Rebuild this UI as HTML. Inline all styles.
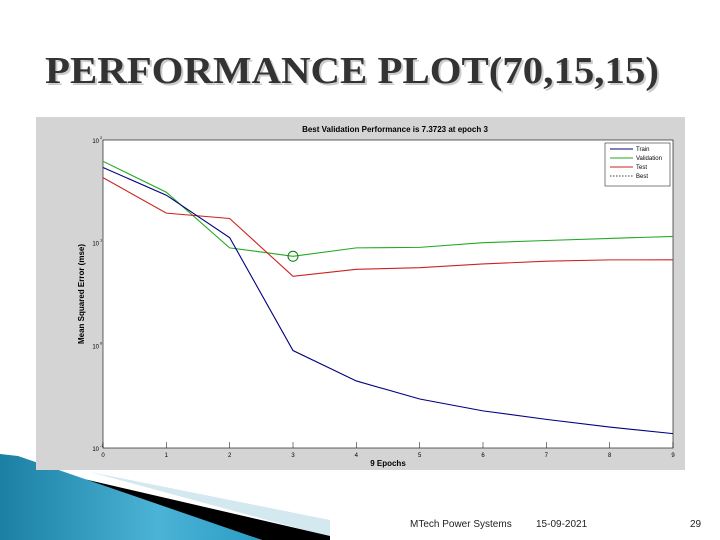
<!DOCTYPE html>
<html><head><meta charset="utf-8"><style>
body{margin:0;background:#fff;width:720px;height:540px;overflow:hidden}
svg{display:block;font-family:"Liberation Sans",sans-serif}
</style></head><body>
<svg width="720" height="540" viewBox="0 0 720 540">
<defs><linearGradient id="bg1" x1="0" y1="0" x2="1" y2="0"><stop offset="0" stop-color="#1a7fa3"/><stop offset="0.6" stop-color="#4bb3d6"/><stop offset="1" stop-color="#2c9cc4"/></linearGradient></defs>
<text x="47" y="85" font-family="Liberation Serif,serif" font-weight="bold" font-size="38" fill="#ccc" textLength="614" lengthAdjust="spacingAndGlyphs">PERFORMANCE PLOT(70,15,15)</text>
<text x="45" y="83" font-family="Liberation Serif,serif" font-weight="bold" font-size="38" fill="#333" textLength="614" lengthAdjust="spacingAndGlyphs">PERFORMANCE PLOT(70,15,15)</text>
<g>
<polygon points="90,472 330,520 330,537" fill="#d4e8f0"/>
<polygon points="45,470 330,536 330,540 262,540" fill="#000"/>
<polygon points="0,454 18,456 262,540 0,540" fill="url(#bg1)"/>
</g>
<rect x="36" y="117" width="649" height="353" fill="#d4d4d4"/>
<text x="395" y="132" font-size="8" text-anchor="middle" font-weight="bold" fill="#000">Best Validation Performance is 7.3723 at epoch 3</text>
<rect x="103" y="140" width="570" height="308" fill="#fff" stroke="#000" stroke-width="0.6"/>
<g id="ticks"></g>
<g id="series"></g>
<text x="388" y="466" font-size="8" font-weight="bold" text-anchor="middle">9 Epochs</text>
<text transform="translate(84,294) rotate(-90)" font-size="8" font-weight="bold" text-anchor="middle">Mean Squared Error  (mse)</text>
<g>
<rect x="605" y="143" width="65" height="43" fill="#fff" stroke="#000" stroke-width="0.5"/>
<line x1="610" y1="149" x2="633" y2="149" stroke="#00007f" stroke-width="1"/><text x="636" y="151" font-size="6">Train</text>
<line x1="610" y1="158" x2="633" y2="158" stroke="#22aa22" stroke-width="1"/><text x="636" y="160" font-size="6">Validation</text>
<line x1="610" y1="167" x2="633" y2="167" stroke="#cc2222" stroke-width="1"/><text x="636" y="169" font-size="6">Test</text>
<line x1="610" y1="176" x2="633" y2="176" stroke="#000" stroke-width="0.8" stroke-dasharray="1.5,1.5"/><text x="636" y="178" font-size="6">Best</text>
</g>
<text x="410" y="527" font-size="10" fill="#222">MTech   Power Systems</text>
<text x="536" y="527" font-size="10" fill="#222">15-09-2021</text>
<text x="690" y="527" font-size="10" fill="#222">29</text>
</svg>
<script>
const epochs=[0,1,2,3,4,5,6,7,8,9];
const train=[54,29,11.2,0.89,0.45,0.30,0.23,0.19,0.16,0.138];
const validation=[62,31,8.9,7.37,8.9,9.0,10,10.5,11,11.5];
const test=[43,19.4,17.2,4.7,5.5,5.7,6.2,6.6,6.8,6.8];
const yDecades=[-1,0,1,2];
const bestEpoch=3, bestValue=7.3723;
const NS='http://www.w3.org/2000/svg';
const X=e=>103+e*(570/9);
const Y=v=>448-(Math.log10(v)+1)*(308/3);
const tg=document.getElementById('ticks'), sg=document.getElementById('series');
function mk(tag,attrs,parent){const el=document.createElementNS(NS,tag);for(const k in attrs)el.setAttribute(k,attrs[k]);parent.appendChild(el);return el;}
epochs.forEach(e=>{
 const l=mk('line',{x1:X(e),x2:X(e),y1:448,y2:442,stroke:'#000','stroke-width':0.5},tg);
 
 
 const t=mk('text',{x:X(e),y:457,'font-size':6,'text-anchor':'middle'},tg);t.textContent=e;
 
 
});
yDecades.forEach(d=>{
 const y=448-(d+1)*(308/3);
 const t=mk('text',{x:99,y:y+3,'font-size':6,'text-anchor':'end'},tg);t.textContent='10';
 
 
 const s=mk('text',{x:100,y:y-1,'font-size':4},tg);s.textContent=d;
});
function series(vals,color,name){
 const p=mk('polyline',{points:vals.map((v,i)=>X(epochs[i])+','+Y(v)).join(' '),fill:'none',stroke:color,'stroke-width':1.1},sg);
 
 
}
series(validation,'#22aa22','validation-line');
series(test,'#cc2222','test-line');
series(train,'#00007f','train-line');
const c=mk('circle',{cx:X(bestEpoch),cy:Y(bestValue),r:5,fill:'none',stroke:'#117711','stroke-width':1},sg);


</script>
</body></html>
